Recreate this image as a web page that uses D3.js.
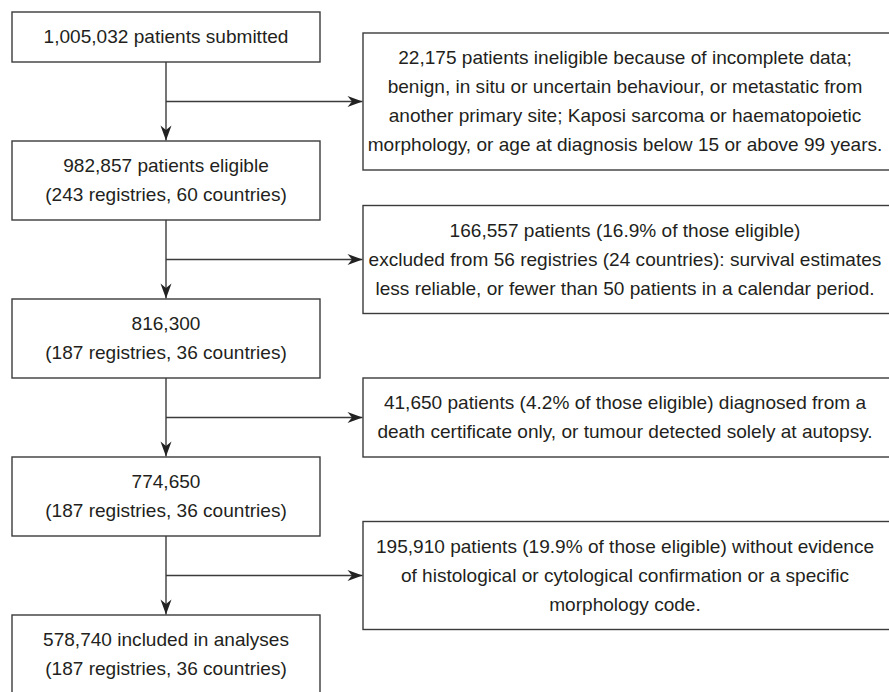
<!DOCTYPE html>
<html>
<head>
<meta charset="utf-8">
<script src="https://cdn.jsdelivr.net/npm/d3@7"></script>
<style>
  body { margin: 0; background: #fff; }
  svg text { font-family: "Liberation Sans", Arial, Helvetica, sans-serif; fill: #231f20; }
</style>
</head>
<body>
<div id="chart"></div>
<script>
// main flow (left column), one entry per box, each entry = lines of text
var stageLines = [
    ["1,005,032 patients submitted"],
    ["982,857 patients eligible", "(243 registries, 60 countries)"],
    ["816,300", "(187 registries, 36 countries)"],
    ["774,650", "(187 registries, 36 countries)"],
    ["578,740 included in analyses", "(187 registries, 36 countries)"]
];

// exclusions (right column), one between each pair of stages
var exclusionLines = [
    ["22,175 patients ineligible because of incomplete data;",
     "benign, in situ or uncertain behaviour, or metastatic from",
     "another primary site; Kaposi sarcoma or haematopoietic",
     "morphology, or age at diagnosis below 15 or above 99 years."],
    ["166,557 patients (16.9% of those eligible)",
     "excluded from 56 registries (24 countries): survival estimates",
     "less reliable, or fewer than 50 patients in a calendar period."],
    ["41,650 patients (4.2% of those eligible) diagnosed from a",
     "death certificate only, or tumour detected solely at autopsy."],
    ["195,910 patients (19.9% of those eligible) without evidence",
     "of histological or cytological confirmation or a specific",
     "morphology code."]
];

const w = 889;
const h = 692;
const lineH = 29;
const boxPad = 21;
const fontSize = 18;
const stretch = 1.06;   // the original type is a bit wider than Arial
const stroke = "#3b3b3b";

// layout scales
const leftX = d3.scaleLinear().domain([0, 1]).range([12, 320]);
const rightX = d3.scaleLinear().domain([0, 1]).range([363, 892]);
const stageTop = d3.scaleLinear().domain([1, 4]).range([141, 615]);
const spineX = 166;

function boxH(lines) { return lines.length * lineH + boxPad; }

var stages = stageLines.map((lines, i) => {
    var top = i === 0 ? 12 : stageTop(i);
    return { lines: lines, top: top, h: boxH(lines) };
});

var exclusions = exclusionLines.map((lines, i) => {
    var y = (stages[i].top + stages[i].h + stages[i + 1].top) / 2;
    return { lines: lines, y: y, top: y - boxH(lines) / 2, h: boxH(lines) };
});

const svg = d3.select("#chart")
    .append("svg")
    .attr("width", w)
    .attr("height", h);

svg.append("defs").append("marker")
    .attr("id", "arrow")
    .attr("viewBox", "-16 -6 17 12")
    .attr("refX", 0)
    .attr("refY", 0)
    .attr("markerWidth", 17)
    .attr("markerHeight", 12)
    .attr("markerUnits", "userSpaceOnUse")
    .attr("orient", "auto")
    .append("path")
    .attr("d", "M0,0 L-15,-5.5 L-10.5,0 L-15,5.5 Z")
    .attr("fill", "#222");

// vertical connectors
svg.selectAll("line.down")
    .data(stages.slice(1))
    .enter()
    .append("line")
    .attr("class", "down")
    .attr("x1", spineX)
    .attr("x2", spineX)
    .attr("y1", (d, i) => stages[i].top + stages[i].h)
    .attr("y2", (d) => d.top - 0.5)
    .attr("stroke", stroke)
    .attr("stroke-width", 1.4)
    .attr("marker-end", "url(#arrow)");

// horizontal connectors
svg.selectAll("line.side")
    .data(exclusions)
    .enter()
    .append("line")
    .attr("class", "side")
    .attr("x1", spineX)
    .attr("x2", rightX(0) - 0.5)
    .attr("y1", (d) => d.y)
    .attr("y2", (d) => d.y)
    .attr("stroke", stroke)
    .attr("stroke-width", 1.4)
    .attr("marker-end", "url(#arrow)");

function drawBoxes(sel, x0, x1, cx) {
    sel.append("rect")
        .attr("x", x0)
        .attr("y", (d) => d.top)
        .attr("width", x1 - x0)
        .attr("height", (d) => d.h)
        .attr("fill", "#fff")
        .attr("stroke", stroke)
        .attr("stroke-width", 1.4);

    sel.each(function (d) {
        var g = d3.select(this);
        var mid = d.top + d.h / 2;
        g.selectAll("text")
            .data(d.lines)
            .enter()
            .append("text")
            .attr("transform", (t, j) => "translate(" + cx + "," + (mid + (j - (d.lines.length - 1) / 2) * lineH) + ") scale(" + stretch + ",1)")
            .attr("dy", "0.36em")
            .attr("text-anchor", "middle")
            .style("font-size", fontSize + "px")
            .text((t) => t);
    });
}

var stageG = svg.selectAll("g.stage")
    .data(stages)
    .enter()
    .append("g")
    .attr("class", "stage");
drawBoxes(stageG, leftX(0), leftX(1), spineX);

var exclG = svg.selectAll("g.excl")
    .data(exclusions)
    .enter()
    .append("g")
    .attr("class", "excl");
drawBoxes(exclG, rightX(0), rightX(1), 625);
</script>
</body>
</html>
